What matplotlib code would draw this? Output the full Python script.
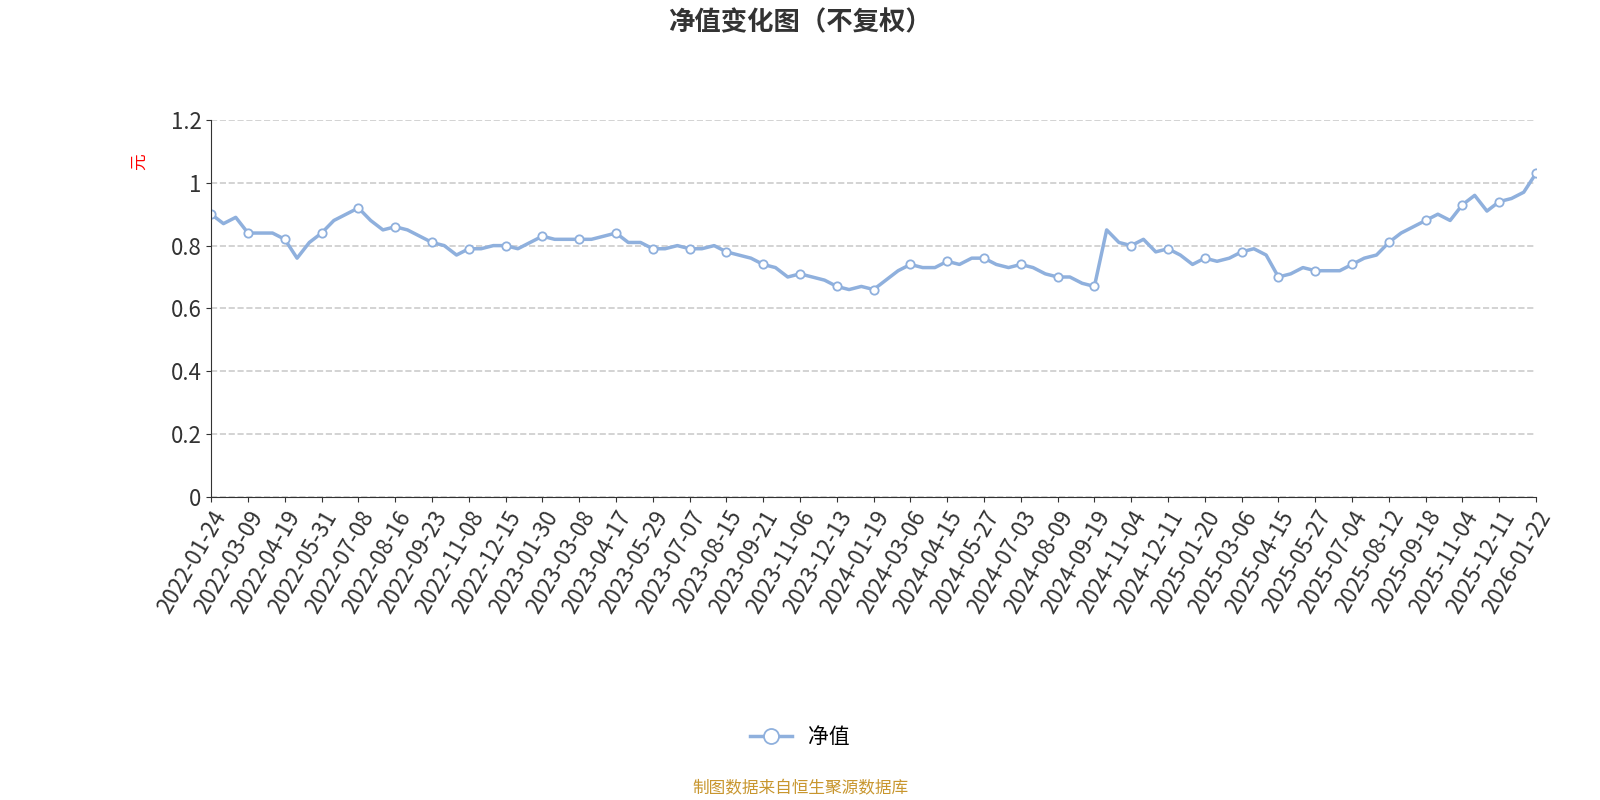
import matplotlib
matplotlib.use("Agg")
import matplotlib.pyplot as plt

plt.rcParams['font.family'] = ['Noto Sans CJK SC', 'DejaVu Sans']

tick_labels = ["2022-01-24","2022-03-09","2022-04-19","2022-05-31","2022-07-08","2022-08-16","2022-09-23",
"2022-11-08","2022-12-15","2023-01-30","2023-03-08","2023-04-17","2023-05-29","2023-07-07","2023-08-15",
"2023-09-21","2023-11-06","2023-12-13","2024-01-19","2024-03-06","2024-04-15","2024-05-27","2024-07-03",
"2024-08-09","2024-09-19","2024-11-04","2024-12-11","2025-01-20","2025-03-06","2025-04-15","2025-05-27",
"2025-07-04","2025-08-12","2025-09-18","2025-11-04","2025-12-11","2026-01-22"]

nav = [0.90,0.87,0.89, 0.84,0.84,0.84, 0.82,0.76,0.81, 0.84,0.88,0.90, 0.92,0.88,0.85,
0.86,0.85,0.83, 0.81,0.80,0.77, 0.79,0.79,0.80, 0.80,0.79,0.81, 0.83,0.82,0.82,
0.82,0.82,0.83, 0.84,0.81,0.81, 0.79,0.79,0.80, 0.79,0.79,0.80, 0.78,0.77,0.76,
0.74,0.73,0.70, 0.71,0.70,0.69, 0.67,0.66,0.67, 0.66,0.69,0.72, 0.74,0.73,0.73,
0.75,0.74,0.76, 0.76,0.74,0.73, 0.74,0.73,0.71, 0.70,0.70,0.68, 0.67,0.85,0.81,
0.80,0.82,0.78, 0.79,0.77,0.74, 0.76,0.75,0.76, 0.78,0.79,0.77, 0.70,0.71,0.73,
0.72,0.72,0.72, 0.74,0.76,0.77, 0.81,0.84,0.86, 0.88,0.90,0.88, 0.93,0.96,0.91,
0.94,0.95,0.97, 1.03]

x = list(range(len(nav)))
fig = plt.figure(figsize=(16, 8), dpi=100)
ax = fig.add_axes([0.132, 0.379, 0.828, 0.471])
ax.plot(x, nav, color='#8fb0dd', lw=2.5, marker='o', markevery=3, ms=6,
        mfc='white', mec='#8fb0dd', mew=1.3, label='净值')
ax.set_xlim(0, len(nav)-1)
ax.set_ylim(0, 1.2)
ax.set_yticks([0,0.2,0.4,0.6,0.8,1.0,1.2])
ax.set_yticklabels(['0','0.2','0.4','0.6','0.8','1','1.2'])
ax.set_xticks(range(0, len(nav), 3))
ax.set_xticklabels(tick_labels, rotation=60, ha='right', rotation_mode='anchor')
ax.tick_params(labelsize=16, colors='#333333')
ax.grid(axis='y', ls='--', color='#cccccc', lw=1.2)
for s in ['top','right']:
    ax.spines[s].set_visible(False)
ax.spines['left'].set_color('#333333')
ax.spines['bottom'].set_color('#333333')
ax.set_ylabel('元', color='red', fontsize=12)
ax.yaxis.set_label_coords(-0.048, 0.89)
fig.text(0.5, 0.972, '净值变化图（不复权）', ha='center', va='center', fontsize=19, weight='bold', color='#333333')
fig.legend(loc='center', bbox_to_anchor=(0.5, 0.079), frameon=False, fontsize=15, markerscale=1.8)
fig.text(0.5, 0.014, '制图数据来自恒生聚源数据库', ha='center', va='center', fontsize=12, color='#c8962e')
fig.savefig('out.png')
